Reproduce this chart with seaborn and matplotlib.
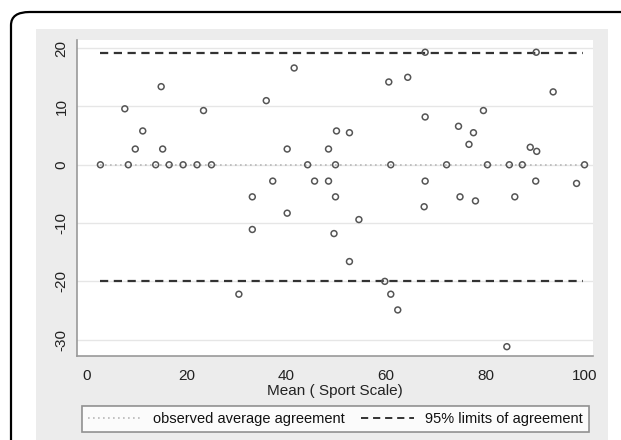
import matplotlib
matplotlib.use("Agg")
import matplotlib.pyplot as plt
import seaborn as sns
import pandas as pd
from matplotlib.patches import FancyBboxPatch, Rectangle
from matplotlib.lines import Line2D

# Bland-Altman data
mean_score = [2.7, 7.6, 8.3, 9.7, 11.2, 13.8, 14.9, 15.2, 16.5, 19.3, 22.1, 23.4, 25.0,
              30.5, 33.2, 33.2, 36.0, 37.3, 40.2, 40.2, 41.6, 44.3, 45.7, 48.5, 48.5,
              49.6, 49.9, 49.9, 50.1, 52.7, 52.7, 54.6, 59.8, 60.6, 61.0, 61.0, 62.4,
              64.4, 67.7, 67.9, 67.9, 67.9, 72.2, 74.6, 74.9, 76.7, 77.6, 78.0, 79.6,
              80.4, 84.3, 84.8, 85.9, 87.4, 89.0, 90.1, 90.2, 90.3, 93.6, 98.3, 99.9]
difference = [0.0, 9.6, 0.0, 2.7, 5.8, 0.0, 13.4, 2.7, 0.0, 0.0, 0.0, 9.3, 0.0,
              -22.2, -5.5, -11.1, 11.0, -2.8, 2.7, -8.3, 16.6, 0.0, -2.8, 2.7, -2.8,
              -11.8, 0.0, -5.5, 5.8, 5.5, -16.6, -9.4, -20.0, 14.2, 0.0, -22.2, -24.9,
              15.0, -7.2, 19.3, 8.2, -2.8, 0.0, 6.6, -5.5, 3.5, 5.5, -6.2, 9.3,
              0.0, -31.2, 0.0, -5.5, 0.0, 3.0, -2.8, 19.3, 2.3, 12.5, -3.2, 0.0]
avg_agreement = 0.0
upper_limit = 19.1
lower_limit = -19.9
legend_labels = ["observed average agreement", "95% limits of agreement"]

df = pd.DataFrame({"mean": mean_score, "diff": difference})

sns.set_style("white")
plt.rcParams["font.family"] = ["Liberation Sans", "DejaVu Sans"]
plt.rcParams["axes.unicode_minus"] = False

W, H = 621, 440
fig = plt.figure(figsize=(W / 100, H / 100), dpi=100)

# rounded frame and grey graph region (behind the axes)
frame = FancyBboxPatch((11 / W, -0.2), 1.2, (H - 12) / H + 0.2,
                       boxstyle="round,pad=0,rounding_size=0.03",
                       transform=fig.transFigure, facecolor="white",
                       edgecolor="black", linewidth=1.6, zorder=-3)
fig.patches.append(frame)
fig.patches.append(Rectangle((36 / W, 0), (608 - 36) / W, (H - 29) / H,
                             transform=fig.transFigure, facecolor="#ececec",
                             edgecolor="none", zorder=-2))

ax = fig.add_axes([77 / W, (H - 356) / H, (593 - 77) / W, (356 - 40) / H])
ax.set_facecolor("white")

ax.set_xlim(-2.0, 101.6)
ax.set_ylim(-32.8, 21.4)
ax.set_yticks([-30, -20, -10, 0, 10, 20])
ax.set_xticks([0, 20, 40, 60, 80, 100])
for yv in ax.get_yticks():
    ax.axhline(yv, color="#e6e6e6", lw=1.0, zorder=0)

xmin, xmax = min(mean_score), max(mean_score)
ax.hlines(avg_agreement, xmin, xmax, colors="#b8b8b8", lw=1.2,
          linestyles=(0, (1, 2)), zorder=1)
ax.hlines([upper_limit, lower_limit], xmin, 99.6, colors="#333333", lw=1.6,
          linestyles=(0, (3.7, 2.5)), zorder=2)

sns.scatterplot(data=df, x="mean", y="diff", ax=ax, marker="o", s=18,
                facecolor="none", edgecolor="#555555", linewidth=1.1, zorder=3)

for side in ["top", "right"]:
    ax.spines[side].set_visible(False)
for side in ["left", "bottom"]:
    ax.spines[side].set_color("#999999")
    ax.spines[side].set_linewidth(1.2)

ax.tick_params(axis="both", direction="out", length=4, width=1, color="#888888",
               labelsize=11, labelcolor="#222222")
ax.tick_params(axis="y", pad=2)
ax.tick_params(axis="x", pad=5)
plt.setp(ax.get_yticklabels(), rotation=90, va="center")
ax.set_ylabel("")
ax.set_xlabel("Mean ( Sport Scale)", fontsize=11, color="#222222", labelpad=1)

handles = [Line2D([], [], color="#b8b8b8", lw=1.2, linestyle=(0, (1, 2))),
           Line2D([], [], color="#333333", lw=1.4, linestyle=(0, (3.7, 2.5)))]
leg = fig.legend(handles, legend_labels, ncol=2, loc="center",
                 bbox_to_anchor=((83 + 588) / 2 / W, 1 - (405 + 433) / 2 / H),
                 frameon=True, fancybox=False, fontsize=10.5,
                 handlelength=3.7, handletextpad=0.75, borderaxespad=0,
                 borderpad=0.4, columnspacing=1.1)
leg.get_frame().set_edgecolor("#777777")
leg.get_frame().set_linewidth(1.2)
for t in leg.get_texts():
    t.set_color("#111111")

fig.savefig("out.png", dpi=100)
